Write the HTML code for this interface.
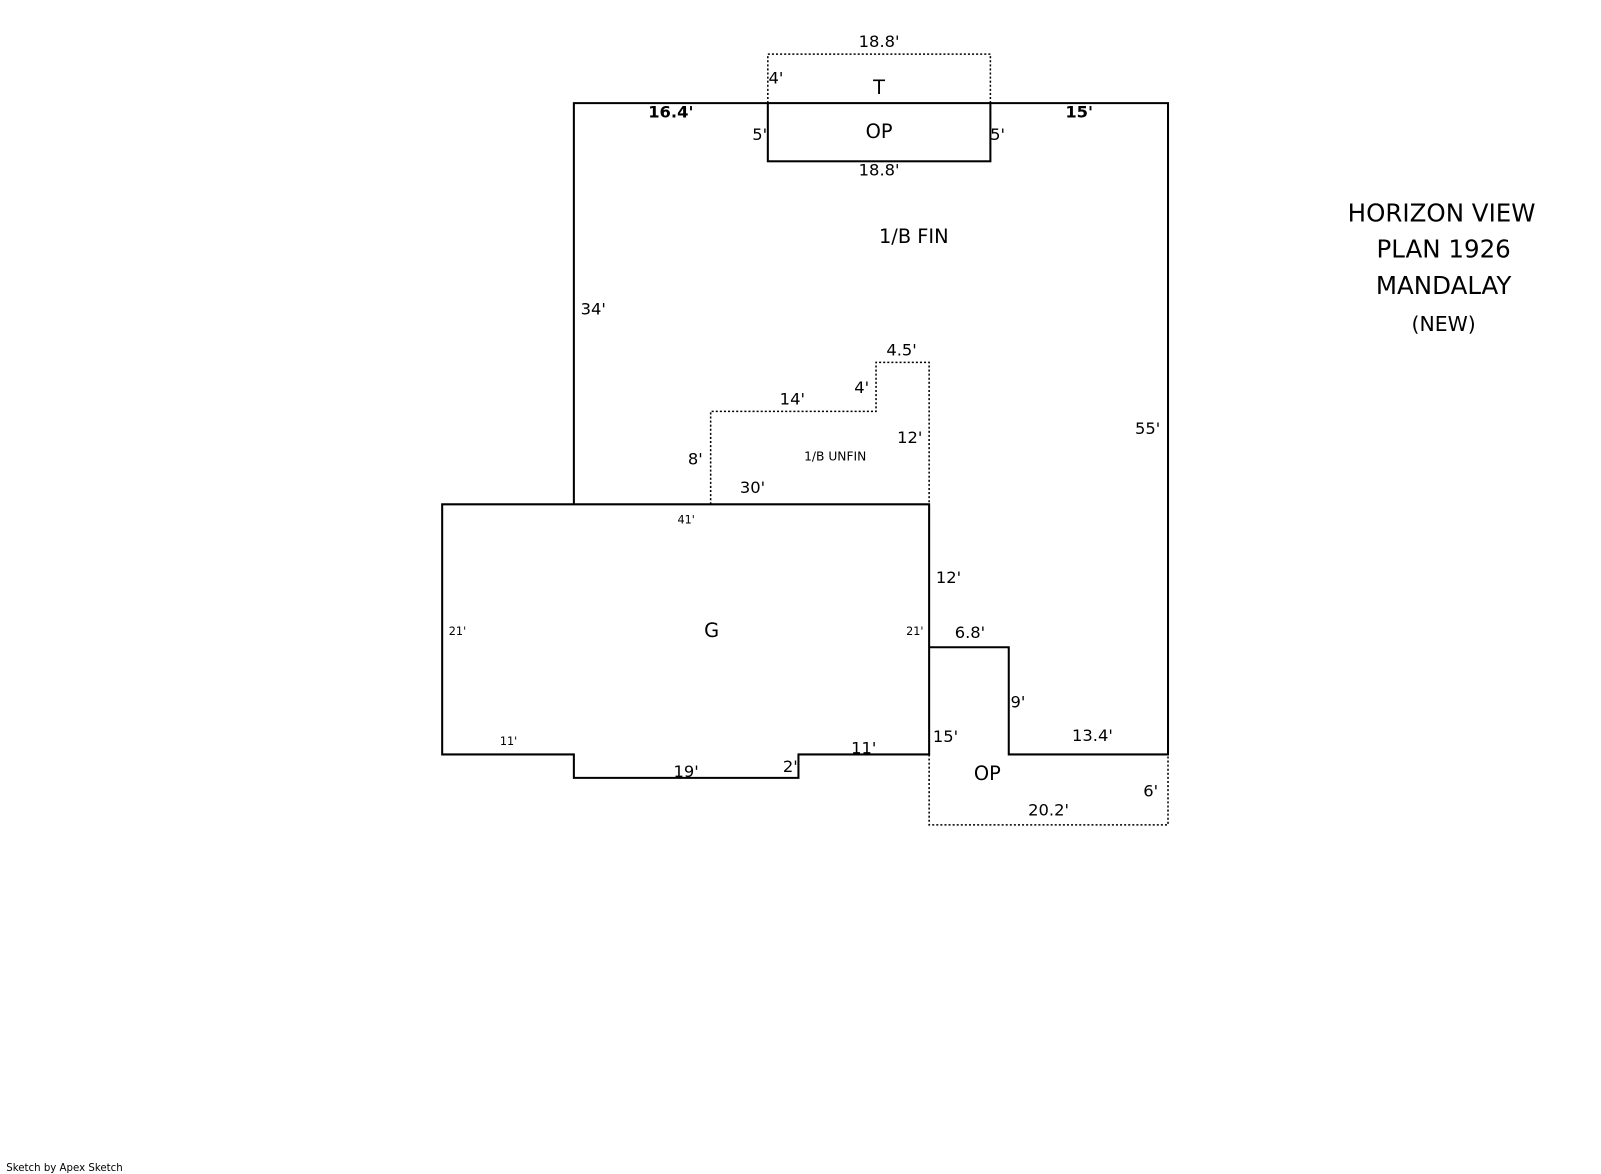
<!DOCTYPE html>
<html><head><meta charset="utf-8"><style>
html,body{margin:0;padding:0;background:#fff}
svg{display:block}
text{font-family:"DejaVu Sans","Liberation Sans",sans-serif;fill:#000}
</style></head><body>
<svg width="1601" height="1174" viewBox="0 0 1568 1150" xmlns="http://www.w3.org/2000/svg">
<g fill="none" stroke="#000" stroke-width="2">
<path d="M562,494 L562,101 L752,101 M970,101 L1144,101 L1144,739 L988,739 L988,634 L910,634"/>
<rect x="752" y="101" width="218" height="57"/>
<path d="M433,494 L910,494 L910,739 L782,739 L782,762 L562,762 L562,739 L433,739 Z"/>
</g>
<g fill="none" stroke="#000" stroke-width="1.5" stroke-dasharray="2,2">
<path d="M752,101 L752,53 L970,53 L970,101"/>
<path d="M910,739 L910,808 L1144,808 L1144,739"/>
<path d="M696,494 L696,403 L858,403 L858,355 L910,355 L910,494"/>
</g>
<g font-size="16">
<text x="861" y="46" text-anchor="middle">18.8'</text>
<text x="760" y="82" text-anchor="middle">4'</text>
<text x="861" y="92" text-anchor="middle" font-size="19">T</text>
<text x="657" y="115" text-anchor="middle" font-weight="bold">16.4'</text>
<text x="1057" y="115" text-anchor="middle" font-weight="bold">15'</text>
<text x="744" y="137" text-anchor="middle">5'</text>
<text x="977" y="137" text-anchor="middle">5'</text>
<text x="861" y="135" text-anchor="middle" font-size="19">OP</text>
<text x="861" y="172" text-anchor="middle">18.8'</text>
<text x="895" y="238" text-anchor="middle" font-size="19">1/B FIN</text>
<text x="581" y="308" text-anchor="middle">34'</text>
<text x="883" y="348" text-anchor="middle">4.5'</text>
<text x="844" y="385" text-anchor="middle">4'</text>
<text x="776" y="396" text-anchor="middle">14'</text>
<text x="891" y="434" text-anchor="middle">12'</text>
<text x="681" y="455" text-anchor="middle">8'</text>
<text x="818" y="451" text-anchor="middle" font-size="12">1/B UNFIN</text>
<text x="737" y="483" text-anchor="middle">30'</text>
<text x="1124" y="425" text-anchor="middle">55'</text>
<text x="672" y="513" text-anchor="middle" font-size="11">41'</text>
<text x="929" y="571" text-anchor="middle">12'</text>
<text x="448" y="622" text-anchor="middle" font-size="11">21'</text>
<text x="896" y="622" text-anchor="middle" font-size="11">21'</text>
<text x="697" y="624" text-anchor="middle" font-size="19">G</text>
<text x="950" y="625" text-anchor="middle">6.8'</text>
<text x="997" y="693" text-anchor="middle">9'</text>
<text x="1070" y="726" text-anchor="middle">13.4'</text>
<text x="926" y="727" text-anchor="middle">15'</text>
<text x="498" y="730" text-anchor="middle" font-size="11">11'</text>
<text x="846" y="738" text-anchor="middle">11'</text>
<text x="774" y="756" text-anchor="middle">2'</text>
<text x="672" y="761" text-anchor="middle">19'</text>
<text x="967" y="764" text-anchor="middle" font-size="19">OP</text>
<text x="1127" y="780" text-anchor="middle">6'</text>
<text x="1027" y="799" text-anchor="middle">20.2'</text>
</g>
<g font-size="24" text-anchor="middle">
<text x="1412" y="217">HORIZON VIEW</text>
<text x="1414" y="252">PLAN 1926</text>
<text x="1414" y="288">MANDALAY</text>
<text x="1414" y="324" font-size="20">(NEW)</text>
</g>
<text x="6" y="1147" font-size="10">Sketch by Apex Sketch</text>
</svg>
</body></html>
